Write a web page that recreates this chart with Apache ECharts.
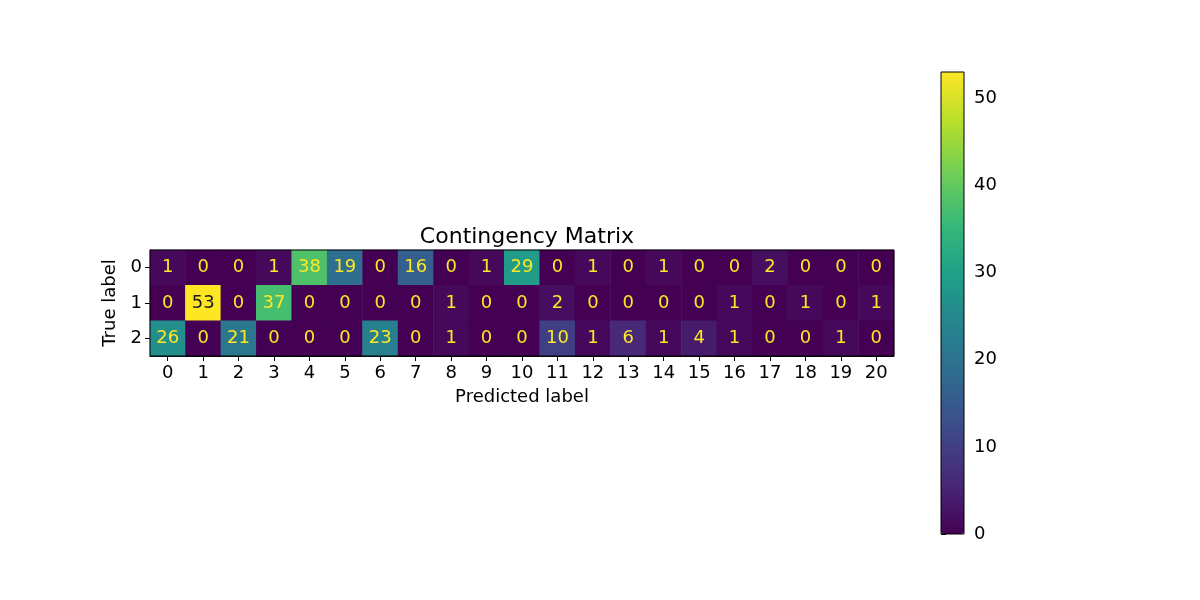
<!DOCTYPE html>
<html>
<head>
<meta charset="utf-8">
<script src="https://cdn.jsdelivr.net/npm/echarts@6/dist/echarts.min.js"></script>
<style>
html,body{margin:0;padding:0;background:#fff;}
#chart{width:1200px;height:600px;}
</style>
</head>
<body>
<div id="chart"></div>
<script>
var predictedLabels = ['0','1','2','3','4','5','6','7','8','9','10','11','12','13','14','15','16','17','18','19','20'];
var trueLabels = ['0','1','2'];
var row0 = [1,0,0,1,38,19,0,16,0,1,29,0,1,0,1,0,0,2,0,0,0];
var row1 = [0,53,0,37,0,0,0,0,1,0,0,2,0,0,0,0,1,0,1,0,1];
var row2 = [26,0,21,0,0,0,23,0,1,0,0,10,1,6,1,4,1,0,0,1,0];
var colorbarTicks = [0,10,20,30,40,50];
var viridis = ['#440154','#482878','#3e4989','#31688e','#26828e','#1f9e89','#35b779','#6ece58','#b5de2b','#fde725'];

var rows = [row0, row1, row2];
var vmax = 53, vmin = 0;
var data = [];
rows.forEach(function(r, i){
  r.forEach(function(v, j){
    data.push({value:[j, i, v], label:{color: v > 45 ? '#1a1a1a' : '#fde725'}});
  });
});

var font = 'DejaVu Sans';
var fs = 18;
var chart = echarts.init(document.getElementById('chart'));
chart.setOption({
  animation:false,
  backgroundColor:'#fff',
  textStyle:{fontFamily:font},
  title:{
    text:'Contingency Matrix',
    left:522, top:221, textAlign:'center',
    textStyle:{fontFamily:font, fontSize:22, fontWeight:'normal', color:'#000'}
  },
  grid:[
    {left:150, top:250, width:744, height:106, show:true, borderColor:'#000', borderWidth:1, backgroundColor:'transparent', z:5},
    {left:941, top:72, width:23, height:462, show:true, borderColor:'#000', borderWidth:1, backgroundColor:'transparent', z:10}
  ],
  xAxis:[
    {type:'category', gridIndex:0, data:predictedLabels, position:'bottom',
     name:'Predicted label', nameLocation:'middle', nameGap:32,
     nameTextStyle:{fontFamily:font, fontSize:fs, color:'#000'},
     axisLine:{show:true, lineStyle:{color:'#000', width:1}},
     axisTick:{show:true, alignWithLabel:true, length:5, lineStyle:{color:'#000'}},
     axisLabel:{fontFamily:font, fontSize:fs, color:'#000', margin:8, interval:0},
     splitLine:{show:false}, splitArea:{show:false}},
    {type:'value', gridIndex:1, show:false, min:0, max:1}
  ],
  yAxis:[
    {type:'category', gridIndex:0, data:trueLabels, inverse:true,
     name:'True label', nameLocation:'middle', nameGap:25,
     nameTextStyle:{fontFamily:font, fontSize:fs, color:'#000'},
     axisLine:{show:true, lineStyle:{color:'#000', width:1}},
     axisTick:{show:true, alignWithLabel:true, length:5, lineStyle:{color:'#000'}},
     axisLabel:{fontFamily:font, fontSize:fs, color:'#000', margin:8},
     splitLine:{show:false}, splitArea:{show:false}},
    {type:'value', gridIndex:1, min:vmin, max:vmax, position:'right',
     axisLine:{show:false},
     axisTick:{show:true, inside:false, length:5, lineStyle:{color:'#000'}, customValues:colorbarTicks},
     axisLabel:{fontFamily:font, fontSize:fs, color:'#000', margin:10, customValues:colorbarTicks},
     splitLine:{show:false}}
  ],
  visualMap:{
    type:'continuous', min:vmin, max:vmax, seriesIndex:0,
    calculable:false, orient:'vertical', hoverLink:false,
    indicatorSize:0, handleSize:0,
    left:941, top:72, itemWidth:23, itemHeight:462, padding:0,
    inRange:{color:viridis},
    textStyle:{color:'rgba(0,0,0,0)'}
  },
  series:[{
    type:'heatmap', xAxisIndex:0, yAxisIndex:0, data:data,
    label:{show:true, fontFamily:font, fontSize:fs, formatter:function(p){return p.value[2];}},
    itemStyle:{borderWidth:0},
    emphasis:{disabled:true}
  }]
});
</script>
</body>
</html>
